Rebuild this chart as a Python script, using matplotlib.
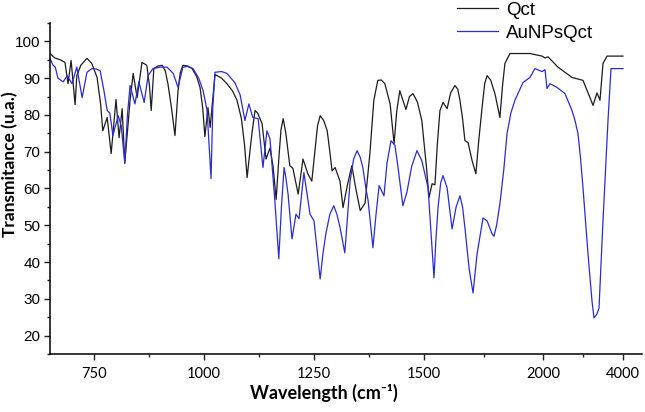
import numpy as np
import matplotlib
matplotlib.use("Agg")
import matplotlib.pyplot as plt
from matplotlib.ticker import FixedLocator

# ---- data (wavenumber cm-1, transmittance) ----
qct_x = [650, 661, 673, 684, 691, 698, 707, 711, 720, 734, 745, 757, 765, 770, 780, 789, 800, 807,
         814, 820, 832, 839, 848, 859, 870, 876, 880, 886, 895, 905, 912, 918, 926, 934, 941, 946,
         952, 963, 973, 983, 991, 997, 1002, 1009, 1014, 1025, 1040, 1052, 1065, 1075, 1085, 1092,
         1098, 1105, 1110, 1116, 1122, 1132, 1141, 1150, 1157, 1164, 1170, 1175, 1180, 1186, 1195,
         1202, 1214, 1225, 1236, 1245, 1252, 1258, 1264, 1272, 1280, 1286, 1291, 1298, 1309, 1316,
         1326, 1336, 1345, 1355, 1366, 1377, 1386, 1395, 1403, 1411, 1423, 1432, 1438, 1445, 1452,
         1459, 1467, 1475, 1485, 1495, 1510, 1521, 1534, 1546, 1556, 1567, 1580, 1597, 1612, 1630,
         1642, 1651, 1662, 1672, 1685, 1702, 1718, 1730, 1744, 1755, 1765, 1780, 1798, 1819, 1830,
         1840, 1861, 1945, 1996, 2050, 2125, 2375, 2725, 3000, 3175, 3250, 3350, 3425, 3500, 3600,
         4000]
qct_y = [96.7, 95.5, 95.0, 94.3, 88.5, 94.8, 82.8, 90.7, 93.5, 95.4, 94.0, 90.2, 83.0, 75.7, 79.3,
         69.5, 84.2, 73.8, 81.7, 67.0, 84.0, 91.3, 84.7, 94.3, 93.5, 88.0, 81.2, 92.6, 93.3, 93.5,
         92.0, 88.5, 82.0, 74.4, 86.6, 91.5, 93.5, 93.3, 92.6, 90.5, 87.5, 82.0, 74.1, 82.0, 76.6,
         91.0, 90.0, 88.5, 86.5, 84.0, 79.0, 72.0, 63.0, 70.8, 76.0, 81.2, 80.5, 77.6, 68.0, 71.0,
         66.0, 57.0, 68.0, 76.0, 79.0, 75.0, 66.2, 65.5, 58.5, 68.0, 64.0, 62.0, 70.0, 77.0, 79.8,
         78.5, 75.7, 70.0, 64.8, 65.7, 62.0, 54.8, 61.0, 66.2, 60.0, 54.0, 56.0, 69.5, 84.0, 89.4,
         89.5, 88.5, 83.0, 72.2, 81.0, 86.6, 84.0, 81.5, 85.0, 85.8, 83.5, 78.5, 66.0, 57.5, 61.3,
         61.0, 72.0, 81.2, 83.4, 81.7, 86.0, 88.0, 87.0, 84.0, 79.0, 73.0, 72.5, 67.6, 64.0, 73.0,
         82.0, 88.5, 90.7, 89.5, 85.8, 79.3, 88.0, 94.0, 96.7, 96.7, 96.0, 95.5, 95.8, 93.0, 90.2,
         89.4, 84.7, 82.6, 86.0, 84.0, 94.0, 96.0, 96.0]

au_x = [650, 657, 662, 668, 680, 689, 700, 711, 723, 734, 745, 755, 764, 772, 780, 786, 793, 805,
        812, 820, 826, 832, 843, 852, 864, 873, 884, 900, 916, 930, 941, 952, 963, 975, 988, 998,
        1007, 1016, 1020, 1025, 1040, 1052, 1070, 1082, 1093, 1102, 1111, 1123, 1134, 1143, 1150,
        1161, 1170, 1176, 1182, 1186, 1191, 1200, 1209, 1216, 1227, 1241, 1250, 1264, 1270, 1277,
        1286, 1295, 1302, 1309, 1320, 1326, 1332, 1340, 1348, 1355, 1361, 1368, 1373, 1384, 1391,
        1398, 1409, 1416, 1425, 1434, 1441, 1452, 1461, 1472, 1484, 1495, 1517, 1542, 1550, 1559,
        1570, 1580, 1597, 1618, 1635, 1651, 1662, 1672, 1690, 1706, 1723, 1748, 1765, 1786, 1794,
        1805, 1819, 1835, 1849, 1865, 1882, 1916, 1945, 1966, 1996, 2050, 2100, 2175, 2350, 2550,
        2725, 2800, 2875, 2940, 3000, 3125, 3225, 3275, 3350, 3400, 3500, 3625, 3700, 4000]
au_y = [95.4, 93.5, 93.0, 90.0, 89.0, 90.7, 88.5, 93.0, 84.7, 91.6, 92.6, 92.5, 92.0, 87.0, 81.2,
        80.5, 74.4, 79.8, 77.0, 66.8, 80.0, 88.0, 83.0, 89.0, 83.4, 90.7, 92.6, 93.0, 93.0, 91.3,
        87.5, 93.0, 93.2, 92.6, 90.0, 86.6, 81.2, 62.7, 82.0, 91.6, 91.8, 91.3, 88.8, 85.5, 78.5,
        83.0, 79.3, 79.0, 65.7, 75.7, 73.5, 56.7, 40.9, 55.0, 65.7, 63.0, 58.5, 46.3, 53.0, 51.8,
        64.3, 53.0, 51.2, 35.4, 42.0, 47.7, 53.0, 55.3, 53.0, 49.5, 42.5, 52.0, 62.0, 68.0, 70.3,
        68.5, 65.7, 60.0, 56.7, 43.9, 53.0, 60.8, 58.0, 67.0, 73.0, 71.7, 65.7, 55.3, 58.9, 66.0,
        70.3, 67.6, 60.2, 35.7, 46.0, 54.8, 61.5, 63.5, 60.2, 49.0, 55.0, 58.0, 55.0, 49.3, 38.0,
        31.6, 42.2, 52.0, 51.2, 47.7, 47.0, 50.0, 55.9, 65.0, 75.0, 80.5, 84.0, 88.8, 90.2, 92.6,
        91.8, 92.3, 87.2, 88.5, 87.5, 85.8, 81.2, 78.5, 74.9, 68.0, 60.2, 42.2, 29.4, 24.8, 25.9,
        27.5, 51.2, 78.5, 92.6, 92.6]

series_labels = ["Qct", "AuNPsQct"]
x_major = [750, 1000, 1250, 1500, 2000, 4000]
x_minor = [875, 1125, 1375, 1750, 3000]
y_major = [20, 30, 40, 50, 60, 70, 80, 90, 100]
y_minor = [15, 25, 35, 45, 55, 65, 75, 85, 95, 105]

# ---- piecewise (compressed) x scale ----
_wn = np.array([0.0, 650.0, 1500.0, 2000.0, 4000.0, 20000.0])
_u = np.array([50 - 650 * 0.44, 50.0, 424.0, 543.0, 623.0, 623.0 + 16000 * 0.04])

def fwd(x):
    return np.interp(x, _wn, _u)

def inv(u):
    return np.interp(u, _u, _wn)

fig = plt.figure(figsize=(6.45, 4.12), dpi=100)
ax = fig.add_axes([50 / 645, 1 - 354 / 412, (642 - 50) / 645, (354 - 23) / 412])
ax.set_xscale("function", functions=(fwd, inv))

ax.plot(qct_x, qct_y, color="#1c1c1c", lw=0.9, label=series_labels[0])
ax.plot(au_x, au_y, color="#2b2bd6", lw=0.9, label=series_labels[1])

ax.set_xlim(650, 4475)
ax.set_ylim(15, 105)

ax.xaxis.set_major_locator(FixedLocator(x_major))
ax.xaxis.set_minor_locator(FixedLocator(x_minor))
ax.set_xticklabels([str(v) for v in x_major], family="Lato", fontsize=10.5)
ax.yaxis.set_major_locator(FixedLocator(y_major))
ax.yaxis.set_minor_locator(FixedLocator(y_minor))
ax.set_yticklabels([str(v) for v in y_major], family="Liberation Sans", fontsize=11)

for s in ["top", "right"]:
    ax.spines[s].set_visible(False)
for s in ["left", "bottom"]:
    ax.spines[s].set_linewidth(1.1)
ax.tick_params(which="major", direction="out", length=4, width=1.0, pad=3, color="#222222")
ax.tick_params(which="minor", direction="out", length=2.5, width=1.0, color="#222222")
ax.tick_params(axis="x", which="major", pad=5)

fig.text(324 / 645, 1 - 393 / 412, "Wavelength (cm\u207b\u00b9)", family=["Lato", "DejaVu Sans"],
         fontweight="bold", fontsize=13, ha="center", va="center")
fig.text(10 / 645, 1 - 164 / 412, "Transmitance (u.a.)", family=["Lato", "DejaVu Sans"],
         fontweight="bold", fontsize=12.5, ha="center", va="center", rotation=90)

leg = ax.legend(loc="upper left", bbox_to_anchor=(457 / 645, 0.996), bbox_transform=fig.transFigure,
                frameon=False, borderpad=0, borderaxespad=0, handlelength=2.2, handletextpad=0.4,
                labelspacing=0.3, prop={"family": "Liberation Sans", "size": 13.5})

fig.savefig("out.png", dpi=100)
